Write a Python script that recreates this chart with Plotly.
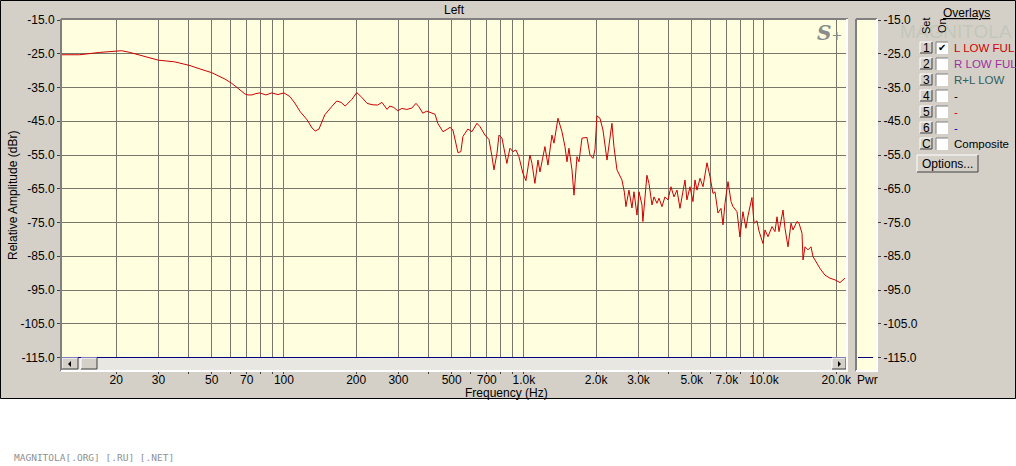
import math
import plotly.graph_objects as go

# ---------------- data ----------------
FREQ_HZ = [
    11.9, 14.1, 17.1, 20.0, 21.1, 22.8, 26.4, 30.0, 35.1, 40.6, 44.7, 50.0,
    56.8, 60.7, 64.3, 68.8, 70.8, 73.6, 76.4, 79.4, 84.1, 89.1, 94.4, 100,
    106, 111, 117, 125, 131, 135, 140, 148, 158, 166, 173, 180, 192, 201,
    211, 222, 233, 246, 256, 269, 276, 287, 298, 310, 325, 341, 355, 365,
    379, 394, 414, 426, 438, 460, 478, 492, 506, 516, 531, 546, 557, 584,
    607, 637, 656, 688, 715, 736, 750, 772, 787, 810, 825, 849, 874, 900,
    926, 953, 990, 1019, 1059, 1080, 1111, 1144, 1166, 1223, 1259, 1308,
    1334, 1386, 1440, 1482, 1511, 1540, 1585, 1616, 1663, 1695, 1745, 1830,
    1884, 1939, 1976, 2014, 2073, 2134, 2218, 2261, 2326, 2371, 2441, 2560,
    2620, 2660, 2738, 2818, 2873, 2957, 3014, 3102, 3130, 3253, 3318, 3415,
    3481, 3583, 3652, 3758, 3868, 3981, 4097, 4217, 4341, 4467, 4597, 4687,
    4775, 4917, 5060, 5158, 5260, 5412, 5570, 5680, 5788, 5957, 6131, 6250,
    6430, 6620, 6750, 6880, 7080, 7290, 7430, 7720, 7940, 8170, 8410, 8580,
    8910, 9085, 9350, 9530, 9900, 10100, 10390, 10800, 11110, 11330, 11550,
    12000, 12230, 12590, 12960, 13210, 13720, 13990, 14400, 14540, 14820,
    15250, 15700, 16000, 16470, 17110, 17950, 18840, 19760, 20730, 21340,
    21750,
]
LEVEL_DBR = [
    -25.3, -25.3, -24.6, -24.3, -24.1, -24.6, -25.9, -26.9, -27.4, -28.5, -29.5, -30.6,
    -32.5, -33.8, -35.2, -36.9, -37.2, -37.2, -36.8, -36.6, -37.2, -36.6, -37.1, -36.6,
    -37.7, -39.6, -42.2, -44.6, -47.0, -47.9, -47.3, -43.1, -40.7, -39.0, -39.4, -40.5, -38.5, -36.5,
    -37.9, -39.7, -40.1, -40.2, -39.4, -41.5, -40.5, -40.9, -41.9, -41.2, -41.5, -41.1, -39.7, -40.7,
    -42.6, -42.0, -42.6, -42.9, -45.7, -48.1, -47.4, -46.8, -47.6, -50.0, -54.3, -54.0, -49.5, -47.3,
    -48.1, -45.6, -46.6, -49.1, -50.4, -55.5, -59.4, -54.5, -49.1, -50.0, -53.0, -57.5, -53.0, -54.0,
    -53.5, -55.5, -60.4, -62.6, -55.0, -57.5, -63.4, -56.5, -60.0, -52.5, -58.0, -49.1,
    -51.5, -44.1, -48.1, -52.5, -57.0, -53.0, -59.4, -66.9, -55.5, -57.0, -50.0, -49.8,
    -55.0, -56.0, -53.5, -43.4, -44.1, -47.6, -56.5, -52.0, -45.6, -52.5, -59.4, -62.4,
    -66.0, -70.3, -65.4, -70.7, -65.9, -72.8, -65.9, -69.8, -74.7, -61.0, -63.4, -69.8,
    -67.4, -69.3, -67.8, -70.3, -67.4, -68.3, -64.4, -67.4, -65.4, -70.8, -65.4, -62.4,
    -68.3, -64.4, -68.8, -62.4, -65.4, -61.9, -64.4, -60.0, -57.3, -61.4, -66.4, -65.9,
    -72.2, -70.8, -75.7, -69.3, -62.9, -68.8, -70.3, -71.8, -79.3, -71.8, -76.7, -73.0,
    -67.6, -75.2, -74.5, -77.5, -81.2, -77.2, -79.2, -76.2, -77.7, -73.3, -77.7,
    -71.3, -76.7, -82.2, -75.2, -77.2, -74.7, -75.2, -78.2, -86.1, -82.2,
    -83.1, -82.2, -85.1, -86.6, -88.6, -90.6, -91.5, -92.0, -92.8, -92.0,
    -91.5,
]
X_TICK_VALUES = [20, 30, 40, 50, 60, 70, 80, 90, 100, 200, 300, 400, 500, 600,
                 700, 800, 900, 1000, 2000, 3000, 4000, 5000, 6000, 7000, 8000,
                 9000, 10000, 20000]
X_TICK_LABELS = ["20", "30", "", "50", "", "70", "", "", "100", "200", "300", "",
                 "500", "", "700", "", "", "1.0k", "2.0k", "3.0k", "", "5.0k", "",
                 "7.0k", "", "", "10.0k", "20.0k"]
Y_TICK_VALUES = [-15, -25, -35, -45, -55, -65, -75, -85, -95, -105, -115]
Y_TICK_LABELS = ["-15.0", "-25.0", "-35.0", "-45.0", "-55.0", "-65.0", "-75.0",
                 "-85.0", "-95.0", "-105.0", "-115.0"]
X_RANGE_HZ = [11.9, 21960]
Y_RANGE_DBR = [-118.7, -15.0]
PWR_LEVEL_DBR = -115.0
OVERLAY_SETS = ["1", "2", "3", "4", "5", "6", "C"]
OVERLAY_NAMES = ["L LOW FUL", "R LOW FUL", "R+L LOW", "-", "-", "-", "Composite"]
OVERLAY_ON = [True, False, False, False, False, False, False]

# ---------------- styles / layout ----------------
OVERLAY_COLORS = ["#D00000", "#A0309F", "#2F5F5F", "#000000", "#D00000", "#0000C0", "#000000"]
FONT = "Liberation Sans, Arial, sans-serif"
GRAY = "#D4D0C8"
DARK = "#808080"
YELLOW = "#FFFFE0"
GRID = "#76766A"
FIG_W, FIG_H = 1016, 466
ML, MR, MT, MB = 62, 138, 20, 96
PW = FIG_W - ML - MR
PH = FIG_H - MT - MB


def px(x):
    return (x - ML) / PW


def py(y):
    return (FIG_H - MB - y) / PH


shapes = []
annotations = []


def rect(x0, y0, x1, y1, fill, line=None, lw=1, layer="above"):
    shapes.append(dict(type="rect", xref="paper", yref="paper",
                       x0=px(x0), x1=px(x1), y0=py(y1), y1=py(y0),
                       fillcolor=fill, layer=layer,
                       line=dict(color=line or fill, width=lw if line else 0)))


def seg(x0, y0, x1, y1, color, lw=1, layer="above"):
    shapes.append(dict(type="line", xref="paper", yref="paper",
                       x0=px(x0), x1=px(x1), y0=py(y0), y1=py(y1),
                       line=dict(color=color, width=lw), layer=layer))


def raised(x0, y0, x1, y1):
    rect(x0, y0, x1, y1, GRAY)
    seg(x0, y0, x1, y0, "#FFFFFF")
    seg(x0, y0, x0, y1, "#FFFFFF")
    seg(x1, y0, x1, y1, "#404040")
    seg(x0, y1, x1, y1, "#404040")


def sunken(x0, y0, x1, y1, fill):
    rect(x0, y0, x1, y1, fill)
    seg(x0, y0, x1, y0, DARK)
    seg(x0, y0, x0, y1, DARK)


def text(x, y, s, size=12, color="#000000", xa="center", ya="middle", family=FONT, angle=0):
    annotations.append(dict(xref="paper", yref="paper", x=px(x), y=py(y), text=s,
                            showarrow=False, xanchor=xa, yanchor=ya, textangle=angle,
                            font=dict(family=family, size=size, color=color)))


fig = go.Figure()
fig.add_trace(go.Scatter(x=FREQ_HZ, y=LEVEL_DBR, mode="lines",
                         line=dict(color="#CC0000", width=1), showlegend=False,
                         hoverinfo="skip"))
fig.add_trace(go.Scatter(x=[None], y=[None], xaxis="x2", yaxis="y2", showlegend=False))

# -115 dB reference line (blue) in the main chart and in the Pwr bar
shapes.append(dict(type="line", xref="x domain", yref="y", x0=0, x1=1,
                   y0=-115, y1=-115, line=dict(color="#000080", width=1), layer="above"))
shapes.append(dict(type="line", xref="x2 domain", yref="y2", x0=0.05, x1=0.85,
                   y0=PWR_LEVEL_DBR, y1=PWR_LEVEL_DBR, line=dict(color="#000080", width=1),
                   layer="above"))

# bottom white strip and outer border
rect(0, 399, FIG_W, FIG_H, "#FFFFFF", layer="below")
shapes.append(dict(type="rect", xref="paper", yref="paper", x0=px(0.5), x1=px(1015.5),
                   y0=py(398.5), y1=py(0.5), line=dict(color="#000000", width=1),
                   fillcolor="rgba(0,0,0,0)", layer="above"))

# scrollbar
rect(62, 358, 846, 370, "#E9E7E2")
raised(62, 358, 78, 369)
shapes.append(dict(type="path", xref="paper", yref="paper", fillcolor="#000000",
                   line=dict(width=0),
                   path=f"M {px(68)},{py(364)} L {px(71)},{py(361)} L {px(71)},{py(367)} Z"))
raised(81, 358, 97, 369)
raised(832, 358, 846, 369)
shapes.append(dict(type="path", xref="paper", yref="paper", fillcolor="#000000",
                   line=dict(width=0),
                   path=f"M {px(841)},{py(364)} L {px(838)},{py(361)} L {px(838)},{py(367)} Z"))

# sunken frames of main plot and Pwr bar
seg(61, 19, 848, 19, DARK, 2)
seg(61, 19, 61, 371, DARK, 2)
seg(847, 19, 847, 371, "#FFFFFF", 2)
seg(61, 371, 848, 371, "#FFFFFF", 2)
seg(856, 19, 877, 19, DARK, 2)
seg(856, 19, 856, 371, DARK, 2)
seg(877, 19, 877, 371, "#FFFFFF", 2)
seg(856, 371, 878, 371, "#FFFFFF", 2)

# texts
text(454, 10, "Left", 12)
text(507, 393, "Frequency (Hz)", 12)
text(13, 196, "Relative Amplitude (dBr)", 12, angle=-90)
text(867, 380, "Pwr", 12)
text(829, 33, "<b><i>S</i></b><span style='font-size:13px'>+</span>", 20, "#8C8C8C",
     family="DejaVu Serif, serif")
text(12, 457, "MAGNITOLA[.ORG] [.RU] [.NET]", 9.5, "#8F8F8F", xa="left",
     family="DejaVu Sans Mono, monospace")

# overlays panel
text(956, 31, "MAGNITOLA", 19, "rgba(150,178,150,0.30)")
text(966, 13, "<u>Overlays</u>", 12)
text(926, 26, "Set", 11, angle=-90)
text(942, 26, "On", 11, angle=-90)
for i, (s, name, on, col) in enumerate(zip(OVERLAY_SETS, OVERLAY_NAMES, OVERLAY_ON, OVERLAY_COLORS)):
    c = 48 + 16 * i
    raised(920, c - 6, 932, c + 5)
    text(926, c, s, 12)
    sunken(936, c - 6, 948, c + 6, "#FFFFFF")
    if on:
        text(942, c, "✔", 10, family="DejaVu Sans, sans-serif")
    text(952, c, name, 11.5, col, xa="left")
raised(917, 155, 978, 172)
text(947.5, 163.5, "Options...", 12)

fig.update_layout(
    width=FIG_W, height=FIG_H,
    margin=dict(l=ML, r=MR, t=MT, b=MB, pad=0),
    paper_bgcolor=GRAY, plot_bgcolor=YELLOW,
    font=dict(family=FONT, size=12, color="#000000"),
    showlegend=False,
    xaxis=dict(type="log", domain=[0, px(846)],
               range=[math.log10(X_RANGE_HZ[0]), math.log10(X_RANGE_HZ[1])],
               tickmode="array", tickvals=X_TICK_VALUES, ticktext=X_TICK_LABELS,
               showgrid=True, gridcolor=GRID, gridwidth=1, zeroline=False,
               showline=False, ticks="outside", ticklen=3, tickcolor="#404040",
               ticklabelstandoff=-4,
               tickfont=dict(size=12), automargin=False, fixedrange=True),
    yaxis=dict(range=Y_RANGE_DBR, tickmode="array", tickvals=Y_TICK_VALUES,
               ticktext=Y_TICK_LABELS, showgrid=True, gridcolor=GRID, gridwidth=1,
               zeroline=False, showline=False, ticks="outside", ticklen=4,
               tickcolor="#404040", tickfont=dict(size=12), automargin=False,
               fixedrange=True),
    xaxis2=dict(domain=[px(857), px(876)], anchor="y2", range=[0, 1],
                showgrid=False, zeroline=False, showticklabels=False, showline=False,
                fixedrange=True),
    yaxis2=dict(anchor="x2", side="right", range=Y_RANGE_DBR, tickmode="array",
                tickvals=Y_TICK_VALUES, ticktext=Y_TICK_LABELS, showgrid=False,
                zeroline=False, showline=False, ticks="outside", ticklen=4,
                tickcolor="#404040", tickfont=dict(size=12), automargin=False,
                fixedrange=True),
    shapes=shapes,
    annotations=annotations,
)

fig.write_html("out.html", config={"displayModeBar": False},
               post_script="document.body.style.margin='0';document.body.style.overflow='hidden';")
